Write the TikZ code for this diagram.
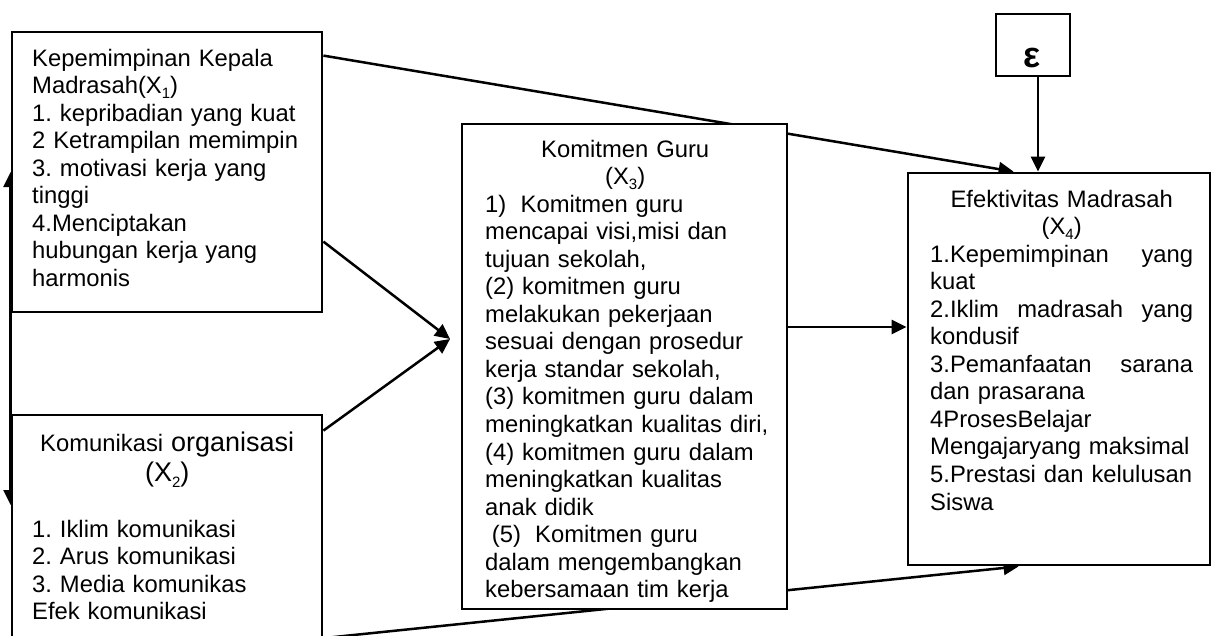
\documentclass[tikz,border=0pt]{standalone}
\usepackage{fontspec}
\setmainfont{Liberation Sans}
\usetikzlibrary{arrows.meta,backgrounds}
\frenchspacing
% lowered small index for X_1 ... X_4
\newcommand\idx[1]{\raisebox{-0.22em}{\fontsize{15}{15}\selectfont #1}}
% a line stretched over a given width, and a line centred in a given width
\newcommand\jline[2]{\leavevmode\hbox to #1{#2}}
\newcommand\midline[2]{\leavevmode\hbox to #1{\hss#2\hss}}

\begin{document}
\begin{tikzpicture}[x=1pt,y=-1pt,
  box/.style={draw, line width=2.8pt, fill=white, inner sep=0pt},
  txt/.style={inner sep=0pt, align=left, anchor=base west,
              font=\fontsize{23.8}{27.55}\selectfont},
  arr/.style={line width=2.5pt, -{Triangle[length=15pt,width=14pt]}},
  darr/.style={line width=2.5pt, {Triangle[length=15pt,width=14pt]}-{Triangle[length=15pt,width=14pt]}}]
\useasboundingbox (0,0) rectangle (1221,635);

% boxes
\node[box, minimum width=310pt, minimum height=280pt] (x1) at (167,172) {};
\node[box, minimum width=310pt, minimum height=245pt] (x2) at (167,537.5) {};
\node[box, minimum width=325pt, minimum height=485pt] (x3) at (624.5,366.5) {};
\node[box, minimum width=302pt, minimum height=392pt] (x4) at (1059,369) {};
\node[box, minimum width=74pt, minimum height=62pt] (eps) at (1033,45) {};
\coordinate (meet) at (450,339);

% texts
\node[txt, text width=300pt] (x1t) at (32,66) {Kepemimpinan Kepala\\
Madrasah(X\idx{1})\\
1. kepribadian yang kuat\\
2 Ketrampilan memimpin\\
3. motivasi kerja yang\\
tinggi\\
4.Menciptakan\\
hubungan kerja yang\\
harmonis};

\node[txt, text width=300pt] (x2h) at (22,451)
  {\midline{290pt}{Komunikasi {\fontsize{27}{31}\selectfont organisasi}}\\[3pt]
   \midline{290pt}{\fontsize{27}{31}\selectfont (X\idx{2})}};

\node[txt, text width=300pt] (x2t) at (32,537) {1. Iklim komunikasi\\
2. Arus komunikasi\\
3. Media komunikas\\
Efek komunikasi};

\node[txt, text width=320pt] (x3t) at (485,157) {\midline{280pt}{Komitmen Guru}\\
\midline{280pt}{(X\idx{3})}\\
1)\hspace{0.6em}Komitmen guru\\
mencapai visi,misi dan\\
tujuan sekolah,\\
(2) komitmen guru\\
melakukan pekerjaan\\
sesuai dengan prosedur\\
kerja standar sekolah,\\
(3) komitmen guru dalam\\
meningkatkan kualitas diri,\\
(4) komitmen guru dalam\\
meningkatkan kualitas\\
anak didik\\
\hspace*{0.28em}(5)\hspace{0.6em}Komitmen guru\\
dalam mengembangkan\\
kebersamaan tim kerja};

\node[txt, text width=300pt] (x4t) at (930,207) {\midline{263pt}{Efektivitas Madrasah}\\
\midline{263pt}{(X\idx{4})}\\
\jline{263pt}{1.Kepemimpinan\hfill yang}\\
kuat\\
\jline{263pt}{2.Iklim\hfill madrasah\hfill yang}\\
kondusif\\
\jline{263pt}{3.Pemanfaatan\hfill sarana}\\
dan prasarana\\
4ProsesBelajar\\
Mengajaryang maksimal\\
5.Prestasi dan kelulusan\\
Siswa};

\node[inner sep=0pt, anchor=base, font=\bfseries\fontsize{36}{36}\selectfont] (epst) at (1032,67) {ε};

% connectors, kept behind the boxes
\begin{pgfonlayer}{background}
\draw[arr] ([yshift=-25pt]x1.north east) -- ([xshift=107pt]x4.north west);
\draw[arr] ([yshift=-211pt]x1.north east) -- (meet);
\draw[arr] ([yshift=-17pt]x2.north east) -- (meet);
\draw[arr] ([yshift=39.5pt]x3.east) -- ([yshift=39.5pt]x3.east -| x4.west);
\draw[arr] ([xshift=5pt]eps.south) -- ([xshift=5pt]eps.south |- x4.north);
\draw[arr] ([yshift=-224.5pt]x2.north east) -- ([xshift=112pt]x4.south west);
\draw[darr] (x1.west) -- ([yshift=32.5pt]x2.west);
\end{pgfonlayer}
\end{tikzpicture}
\end{document}
